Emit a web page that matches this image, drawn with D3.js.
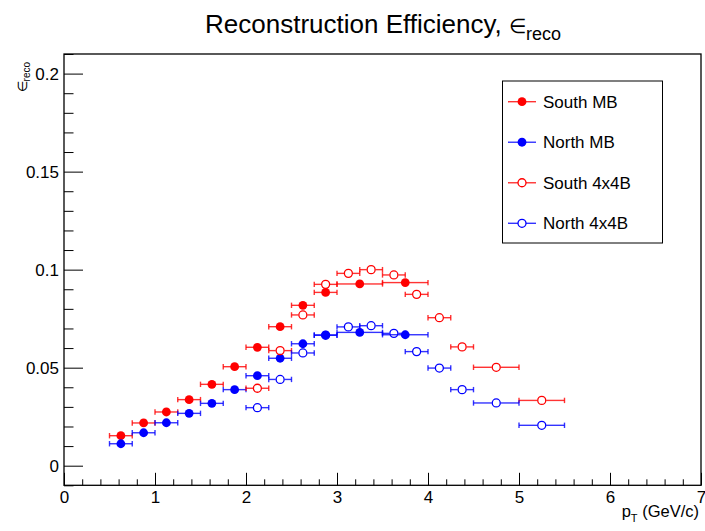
<!DOCTYPE html>
<html>
<head>
<meta charset="utf-8">
<script src="https://cdn.jsdelivr.net/npm/d3@7"></script>
<style>
  body { margin: 0; background: #fff; }
  svg { font-family: "Liberation Sans", Arial, Helvetica, sans-serif; }
</style>
</head>
<body>
<div id="chart"></div>
<script>
const width = 705;
const height = 531;

// bins: [low, high] in pT
const mbBins = [[0.5,0.75],[0.75,1.0],[1.0,1.25],[1.25,1.5],[1.5,1.75],[1.75,2.0],
  [2.0,2.25],[2.25,2.5],[2.5,2.75],[2.75,3.0],[3.0,3.5],[3.5,4.0]];
const trigBins = [[2.0,2.25],[2.25,2.5],[2.5,2.75],[2.75,3.0],[3.0,3.25],[3.25,3.5],
  [3.5,3.75],[3.75,4.0],[4.0,4.25],[4.25,4.5],[4.5,5.0],[5.0,5.5]];

const southMB = [0.0153,0.0218,0.0274,0.0337,0.0415,0.0505,0.0604,0.0709,0.0818,0.0884,0.0927,0.0934];
const northMB = [0.0112,0.0168,0.0219,0.0267,0.0318,0.0388,0.0459,0.0548,0.0622,0.0667,0.0680,0.0668];
const south4x4B = [0.0395,0.0587,0.0769,0.0925,0.0981,0.1000,0.0973,0.0874,0.0755,0.0606,0.0502,0.0333];
const north4x4B = [0.0296,0.0440,0.0575,0.0665,0.0708,0.0714,0.0675,0.0582,0.0498,0.0388,0.0320,0.0206];

const xMajor = [0,1,2,3,4,5,6,7];
const yMajor = [0,0.05,0.1,0.15,0.2];

const series = [
  { name: "South MB", bins: mbBins, vals: southMB, color: "#ff0000", filled: true },
  { name: "North MB", bins: mbBins, vals: northMB, color: "#0000ff", filled: true },
  { name: "South 4x4B", bins: trigBins, vals: south4x4B, color: "#ff0000", filled: false },
  { name: "North 4x4B", bins: trigBins, vals: north4x4B, color: "#0000ff", filled: false }
];

const frame = { left: 64, right: 701, top: 54, bottom: 485.3 };

const x = d3.scaleLinear().domain([0, 7]).range([frame.left, frame.right]);
const y = d3.scaleLinear().domain([-0.01, 0.21]).range([frame.bottom, frame.top]);

const svg = d3.select("#chart").append("svg")
  .attr("width", width)
  .attr("height", height);

// minor ticks
const xMinor = d3.range(0, 7.0001, 0.2).filter(v => Math.abs(v - Math.round(v)) > 1e-6);
const yMinor = d3.range(-0.01, 0.2101, 0.01).filter(v => Math.abs(v / 0.05 - Math.round(v / 0.05)) > 1e-6);

svg.append("g")
  .attr("transform", `translate(0,${frame.bottom})`)
  .call(d3.axisBottom(x).tickValues(xMinor).tickSize(-6).tickFormat(""))
  .call(g => g.select(".domain").remove());

svg.append("g")
  .attr("transform", `translate(${frame.left},0)`)
  .call(d3.axisLeft(y).tickValues(yMinor).tickSize(-9.5).tickFormat(""))
  .call(g => g.select(".domain").remove());

svg.append("g")
  .attr("transform", `translate(0,${frame.bottom})`)
  .call(d3.axisBottom(x).tickValues(xMajor).tickSize(-12.5).tickPadding(6).tickFormat(d => d))
  .call(g => g.select(".domain").remove());

svg.append("g")
  .attr("transform", `translate(${frame.left},0)`)
  .call(d3.axisLeft(y).tickValues(yMajor).tickSize(-19).tickPadding(5).tickFormat(d => String(d)))
  .call(g => g.select(".domain").remove());

svg.selectAll(".tick line").attr("stroke", "#000");
svg.selectAll(".tick text")
  .attr("font-family", "Liberation Sans, Arial, sans-serif")
  .attr("font-size", 17)
  .attr("fill", "#000");

// frame
svg.append("rect")
  .attr("x", frame.left)
  .attr("y", frame.top)
  .attr("width", frame.right - frame.left)
  .attr("height", frame.bottom - frame.top)
  .attr("fill", "none")
  .attr("stroke", "#000")
  .attr("stroke-width", 1.3);

// data
const r = 4.4;
series.forEach(s => {
  const g = svg.append("g");
  s.vals.forEach((v, i) => {
    const [lo, hi] = s.bins[i];
    const cx = x((lo + hi) / 2);
    const cy = y(v);
    const gap = s.filled ? 0 : r;
    g.append("line")
      .attr("x1", x(lo)).attr("x2", cx - gap)
      .attr("y1", cy).attr("y2", cy)
      .attr("stroke", s.color).attr("stroke-width", 1.4).attr("stroke-opacity", 0.8);
    g.append("line")
      .attr("x1", cx + gap).attr("x2", x(hi))
      .attr("y1", cy).attr("y2", cy)
      .attr("stroke", s.color).attr("stroke-width", 1.4).attr("stroke-opacity", 0.8);
    [lo, hi].forEach(e => {
      g.append("line")
        .attr("x1", x(e)).attr("x2", x(e))
        .attr("y1", cy - 2.7).attr("y2", cy + 2.7)
        .attr("stroke", s.color).attr("stroke-width", 1.4).attr("stroke-opacity", 0.8);
    });
    g.append("circle")
      .attr("cx", cx).attr("cy", cy)
      .attr("r", s.filled ? r : r - 0.4)
      .attr("fill", s.filled ? s.color : "none")
      .attr("stroke", s.color)
      .attr("stroke-width", s.filled ? 0 : 1.3);
  });
});

// title
const title = svg.append("text")
  .attr("x", 383)
  .attr("y", 33)
  .attr("text-anchor", "middle")
  .attr("font-size", 26)
  .attr("fill", "#000");
title.append("tspan").text("Reconstruction Efficiency, ");
title.append("tspan").attr("font-size", 20).text("\u2208");
title.append("tspan").attr("font-size", 18).attr("dy", 7).text("reco");

// x title
const xt = svg.append("text")
  .attr("x", 699)
  .attr("y", 517)
  .attr("text-anchor", "end")
  .attr("font-size", 16.5);
xt.append("tspan").text("p");
xt.append("tspan").attr("font-size", 11).attr("dy", 5).text("T");
xt.append("tspan").attr("dy", -5).text(" (GeV/c)");

// y title
const yt = svg.append("text")
  .attr("transform", "translate(27,62) rotate(-90)")
  .attr("text-anchor", "end")
  .attr("font-size", 13);
yt.append("tspan").text("\u2208");
yt.append("tspan").attr("font-size", 10).attr("dy", 3).text("reco");

// legend
const legend = svg.append("g");
legend.append("rect")
  .attr("x", 502.5).attr("y", 81)
  .attr("width", 160).attr("height", 162)
  .attr("fill", "#fff")
  .attr("stroke", "#000")
  .attr("stroke-width", 1);

const legendY = d3.scalePoint().domain(series.map(s => s.name)).range([101.7, 223.3]);
series.forEach(s => {
  const ly = legendY(s.name);
  legend.append("line")
    .attr("x1", 508).attr("x2", 536)
    .attr("y1", ly).attr("y2", ly)
    .attr("stroke", s.color).attr("stroke-width", 1.4).attr("stroke-opacity", 0.8);
  legend.append("circle")
    .attr("cx", 522).attr("cy", ly)
    .attr("r", s.filled ? r : r - 0.4)
    .attr("fill", s.filled ? s.color : "#fff")
    .attr("stroke", s.color)
    .attr("stroke-width", s.filled ? 0 : 1.3);
  legend.append("text")
    .attr("x", 543)
    .attr("y", ly)
    .attr("dy", "0.35em")
    .attr("font-size", 17)
    .text(s.name);
});
</script>
</body>
</html>
